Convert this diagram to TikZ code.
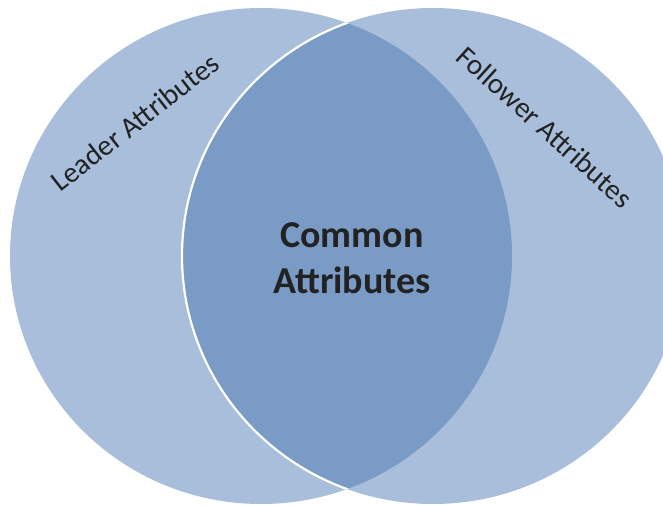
\documentclass[tikz,border=0pt]{standalone}
\usepackage{fontspec}
\setmainfont{Carlito}
\definecolor{setlight}{RGB}{168,190,219}
\definecolor{setdark}{RGB}{122,155,198}
\definecolor{labelgray}{RGB}{34,34,34}
\begin{document}
\begin{tikzpicture}[x=1pt,y=1pt,
  setlabel/.style={text=labelgray,font=\fontsize{29}{34}\selectfont,inner sep=0pt},
  commonlabel/.style={text=labelgray,font=\fontsize{38}{46}\selectfont\bfseries,align=center,inner sep=0pt}]
  \useasboundingbox (0,0) rectangle (663,506);
  \def\lset{(261,250) ellipse [x radius=251,y radius=248]}
  \def\rset{(433,250) ellipse [x radius=251,y radius=248]}
  % the two sets
  \begin{scope}
    \clip (0,0) rectangle (663,506);
    \fill[setlight] \lset;
    \fill[setlight] \rset;
    % overlap of the two sets
    \begin{scope}
      \clip \lset;
      \fill[setdark] \rset;
      \draw[white,line width=2.2pt] \rset;
    \end{scope}
  \end{scope}
  % labels
  \node[setlabel,rotate=38] (leader) at (135,384) {Leader Attributes};
  \node[setlabel,rotate=-42] (follower) at (545,379) {Follower Attributes};
  \node[commonlabel] (common) at (352,248) {Common\\Attributes};
\end{tikzpicture}
\end{document}
